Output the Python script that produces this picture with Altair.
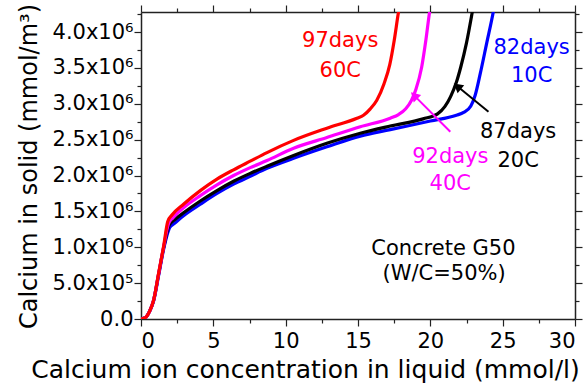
import altair as alt
import pandas as pd

# ---- data (y in units of 10^6 mmol/m^3) ----
red_x = [0, 0.2, 0.4, 0.6, 0.87, 1.22, 1.56, 1.85, 2.14, 2.94, 4.1, 5.25, 6.4, 7.55, 8.71, 10.55, 12.85, 14.93, 15.38, 15.85, 16.3, 16.8, 17.2, 17.5, 17.8, 17.95]
red_y = [0, 0.01, 0.04, 0.11, 0.26, 0.64, 1.01, 1.36, 1.45, 1.60, 1.79, 1.95, 2.08, 2.20, 2.32, 2.49, 2.66, 2.80, 2.84, 2.93, 3.05, 3.28, 3.55, 3.88, 4.28, 4.45]

mag_x = [0, 0.2, 0.4, 0.6, 0.87, 1.22, 1.56, 1.9, 2.2, 2.94, 4.1, 5.25, 6.4, 7.55, 8.71, 10.55, 12.85, 15.16, 17.23, 17.8, 18.3, 18.7, 19.0, 19.4, 19.7, 19.95, 20.1]
mag_y = [0, 0.01, 0.04, 0.11, 0.26, 0.63, 1.00, 1.33, 1.41, 1.55, 1.72, 1.87, 2.00, 2.11, 2.21, 2.38, 2.53, 2.68, 2.80, 2.85, 2.93, 3.05, 3.20, 3.51, 3.90, 4.28, 4.45]

blk_x = [0, 0.2, 0.4, 0.6, 0.87, 1.22, 1.56, 1.95, 2.3, 2.94, 4.1, 5.25, 6.4, 7.55, 8.71, 10.55, 12.85, 15.16, 17.23, 19.5, 20.5, 21.0, 21.4, 21.8, 22.1, 22.5, 22.9, 23.05]
blk_y = [0, 0.01, 0.04, 0.11, 0.26, 0.63, 0.99, 1.31, 1.38, 1.48, 1.645, 1.79, 1.92, 2.03, 2.13, 2.28, 2.45, 2.59, 2.69, 2.79, 2.86, 2.96, 3.10, 3.30, 3.51, 3.85, 4.28, 4.45]

blu_x = [0, 0.2, 0.4, 0.6, 0.87, 1.22, 1.56, 2.0, 2.3, 2.94, 4.1, 5.25, 6.4, 7.55, 8.71, 10.55, 12.85, 15.16, 17.23, 20.0, 21.8, 22.3, 22.8, 23.1, 23.45, 23.9, 24.35, 24.5]
blu_y = [0, 0.01, 0.04, 0.11, 0.25, 0.61, 0.97, 1.28, 1.33, 1.44, 1.60, 1.75, 1.88, 1.99, 2.10, 2.24, 2.40, 2.55, 2.64, 2.76, 2.84, 2.88, 2.97, 3.12, 3.42, 3.85, 4.28, 4.45]

series_names = ["10C", "20C", "40C", "60C"]
series_colors = ["#0000FF", "#000000", "#FF00FF", "#FF0000"]
series_x = [blu_x, blk_x, mag_x, red_x]
series_y = [blu_y, blk_y, mag_y, red_y]

# annotation labels
label_text = ["97days", "60C", "82days", "10C", "87days", "20C", "92days", "40C", "Concrete G50", "(W/C=50%)"]
label_x = [13.77, 13.77, 27.0, 27.0, 26.07, 26.07, 21.38, 21.38, 20.9, 20.95]
label_y = [3.79, 3.375, 3.70, 3.305, 2.525, 2.12, 2.17, 1.797, 0.891, 0.543]
label_color = ["#FF0000", "#FF0000", "#0000FF", "#0000FF", "#000000", "#000000", "#FF00FF", "#FF00FF", "#000000", "#000000"]

# arrows: start -> end
arrow_x = [21.38, 24.02]
arrow_y = [2.61, 2.89]
arrow_x2 = [18.96, 21.95]
arrow_y2 = [3.10, 3.23]
arrow_color = ["#FF00FF", "#000000"]
arrow_angle = [315, 309]

x_ticks = [i * 2.5 for i in range(13)]
y_ticks = [i * 0.25 for i in range(18)]

FONT = "DejaVu Sans"
AX = "#222222"

xscale = alt.Scale(domain=[0, 30], nice=False, zero=False)
yscale = alt.Scale(domain=[0, 4.28], nice=False, zero=False)

x_minor = {"condition": {"test": "datum.value % 5 != 0", "value": 4}, "value": 7}
y_minor = {"condition": {"test": "datum.value % 0.5 != 0", "value": 4}, "value": 7}

x_axis = alt.Axis(
    values=x_ticks,
    labelExpr="datum.value % 5 == 0 ? format(datum.value, 'd') : ''",
    tickSize=x_minor,
    labelPadding=4,
    title="Calcium ion concentration in liquid (mmol/l)",
    titleX=164, titleY=58, titleAlign="center", titleBaseline="alphabetic",
    labelOverlap=False,
)
y_axis = alt.Axis(
    values=y_ticks,
    labelExpr=("datum.value % 0.5 != 0 ? '' : datum.value == 0 ? '0.0' : "
               "datum.value < 1 ? format(datum.value * 10, '.1f') + 'x10\u2075' : "
               "format(datum.value, '.1f') + 'x10\u2076'"),
    tickSize=y_minor,
    labelPadding=1,
    title="Calcium in solid (mmol/m\u00b3)",
    titleX=-105, titleY=154, titleAngle=270, titleAlign="center", titleBaseline="alphabetic",
    titleFontSize=24,
    labelOverlap=False,
)
x_top = alt.Axis(orient="top", values=x_ticks, labels=False, tickSize=x_minor, title=None)
y_right = alt.Axis(orient="right", values=y_ticks, labels=False, tickSize=y_minor, title=None)

layers = []
for i, (name, xs, ys, col) in enumerate(zip(series_names, series_x, series_y, series_colors)):
    d = pd.DataFrame({"x": xs, "y": ys, "series": name})
    enc_x = alt.X("x:Q", scale=xscale, axis=x_axis if i == 0 else None)
    enc_y = alt.Y("y:Q", scale=yscale, axis=y_axis if i == 0 else None)
    layers.append(
        alt.Chart(d).mark_line(color=col, strokeWidth=3.2, interpolate="monotone", clip=True)
        .encode(x=enc_x, y=enc_y)
    )

arrows = pd.DataFrame({"x": arrow_x, "y": arrow_y, "x2": arrow_x2, "y2": arrow_y2,
                       "c": arrow_color, "a": arrow_angle})
arrow_lines = alt.Chart(arrows).mark_rule(strokeWidth=2).encode(
    x=alt.X("x:Q", scale=xscale, axis=None), y=alt.Y("y:Q", scale=yscale, axis=None),
    x2="x2:Q", y2="y2:Q", color=alt.Color("c:N", scale=None))
arrow_heads = alt.Chart(arrows).mark_point(shape="triangle", filled=True, size=110, opacity=1).encode(
    x=alt.X("x2:Q", scale=xscale, axis=None), y=alt.Y("y2:Q", scale=yscale, axis=None),
    color=alt.Color("c:N", scale=None), angle=alt.Angle("a:Q", scale=None))

labels = pd.DataFrame({"t": label_text, "x": label_x, "y": label_y, "c": label_color})
label_marks = alt.Chart(labels).mark_text(font=FONT, fontSize=21, align="center", baseline="alphabetic").encode(
    x=alt.X("x:Q", scale=xscale, axis=None), y=alt.Y("y:Q", scale=yscale, axis=None),
    text="t:N", color=alt.Color("c:N", scale=None))

frame = alt.Chart(pd.DataFrame({"x": [0], "y": [0]})).mark_point(opacity=0).encode(
    x=alt.X("x:Q", scale=xscale, axis=x_top), y=alt.Y("y:Q", scale=yscale, axis=y_right))

chart = alt.layer(*layers, arrow_lines, arrow_heads, label_marks, frame).resolve_axis(
    x="independent", y="independent"
).properties(
    width=434, height=307,
    autosize=alt.AutoSizeParams(type="none"),
    padding={"left": 141, "top": 12, "right": 12, "bottom": 64},
).configure_view(stroke=None).configure_axis(
    grid=False, domainColor=AX, tickColor=AX, domainWidth=1.5, tickWidth=1.2,
    labelFont=FONT, labelFontSize=21, labelColor="#000000",
    titleFont=FONT, titleFontSize=25, titleColor="#000000", titleFontWeight="normal",
)

chart.save("out.html", embed_options={"renderer": "svg", "actions": False})
